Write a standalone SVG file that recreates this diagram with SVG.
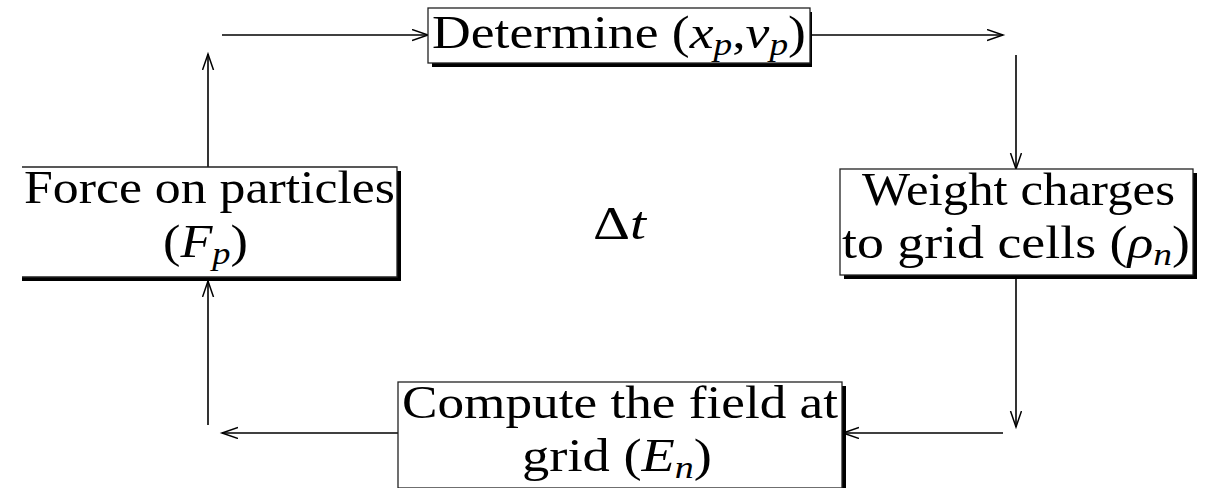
<svg xmlns="http://www.w3.org/2000/svg" width="1208" height="488" viewBox="0 0 1208 488">
<style>
.t{font-family:"Liberation Serif","DejaVu Serif",serif;font-size:46px;fill:#000}
.i{font-style:italic}
.s{font-style:italic;font-size:32px}
.box{fill:#fff;stroke:#222;stroke-width:1.3}
.sh{fill:none;stroke:#000;stroke-width:4}
.c{fill:none;stroke:#000;stroke-width:1.6}
</style>
<defs>
<marker id="ah" markerUnits="userSpaceOnUse" markerWidth="20" markerHeight="14" refX="16" refY="6" orient="auto">
<path d="M0,0.5 L16,6 L0,11.5" fill="none" stroke="#000" stroke-width="1.5"/>
</marker>
</defs>
<rect width="1208" height="488" fill="#fff"/>
<g id="connectors">
<line class="c" x1="208" y1="167" x2="208" y2="54" marker-end="url(#ah)"/>
<line class="c" x1="222" y1="35" x2="428" y2="35" marker-end="url(#ah)"/>
<line class="c" x1="812" y1="35" x2="1003" y2="35" marker-end="url(#ah)"/>
<line class="c" x1="1016" y1="55" x2="1016" y2="169" marker-end="url(#ah)"/>
<line class="c" x1="1016" y1="279" x2="1016" y2="427" marker-end="url(#ah)"/>
<line class="c" x1="1003" y1="433" x2="843" y2="433" marker-end="url(#ah)"/>
<line class="c" x1="398" y1="433" x2="222" y2="433" marker-end="url(#ah)"/>
<line class="c" x1="208" y1="425" x2="208" y2="281" marker-end="url(#ah)"/>
</g>
<g id="determine">
<path class="sh" d="M810,12 V65 H432"/>
<rect class="box" x="428" y="8" width="382" height="55"/>
<text class="t" x="432" y="48" textLength="374" lengthAdjust="spacingAndGlyphs">Determine (<tspan class="i">x</tspan><tspan class="s" dy="7">p</tspan><tspan dy="-7">,</tspan><tspan class="i">v</tspan><tspan class="s" dy="7">p</tspan><tspan dy="-7">)</tspan></text>
</g>
<g id="force">
<rect x="22" y="167" width="375" height="110" fill="#fff"/>
<path class="sh" d="M399,171 V279 H22"/>
<path class="box" d="M22,167 H397 V277 H22" fill="none"/>
<text class="t" x="24" y="203" textLength="371" lengthAdjust="spacingAndGlyphs">Force on particles</text>
<text class="t" x="163" y="257" textLength="85" lengthAdjust="spacingAndGlyphs">(<tspan class="i">F</tspan><tspan class="s" dy="7">p</tspan><tspan dy="-7">)</tspan></text>
</g>
<g id="weight">
<path class="sh" d="M1195,173 V277 H844"/>
<rect class="box" x="840" y="169" width="353" height="106"/>
<text class="t" x="862" y="205" textLength="313" lengthAdjust="spacingAndGlyphs">Weight charges</text>
<text class="t" x="842" y="258" textLength="348" lengthAdjust="spacingAndGlyphs">to grid cells (<tspan class="i">ρ</tspan><tspan class="s" dy="7">n</tspan><tspan dy="-7">)</tspan></text>
</g>
<g id="compute">
<path class="sh" d="M844,386 V490"/>
<rect class="box" x="398" y="382" width="444" height="106"/>
<text class="t" x="402" y="418" textLength="436" lengthAdjust="spacingAndGlyphs">Compute the field at</text>
<text class="t" x="522" y="471" textLength="190" lengthAdjust="spacingAndGlyphs">grid (<tspan class="i">E</tspan><tspan class="s" dy="7">n</tspan><tspan dy="-7">)</tspan></text>
</g>
<g id="dt">
<text class="t" x="593" y="239" font-size="50" textLength="53" lengthAdjust="spacingAndGlyphs">Δ<tspan class="i">t</tspan></text>
</g>
</svg>
